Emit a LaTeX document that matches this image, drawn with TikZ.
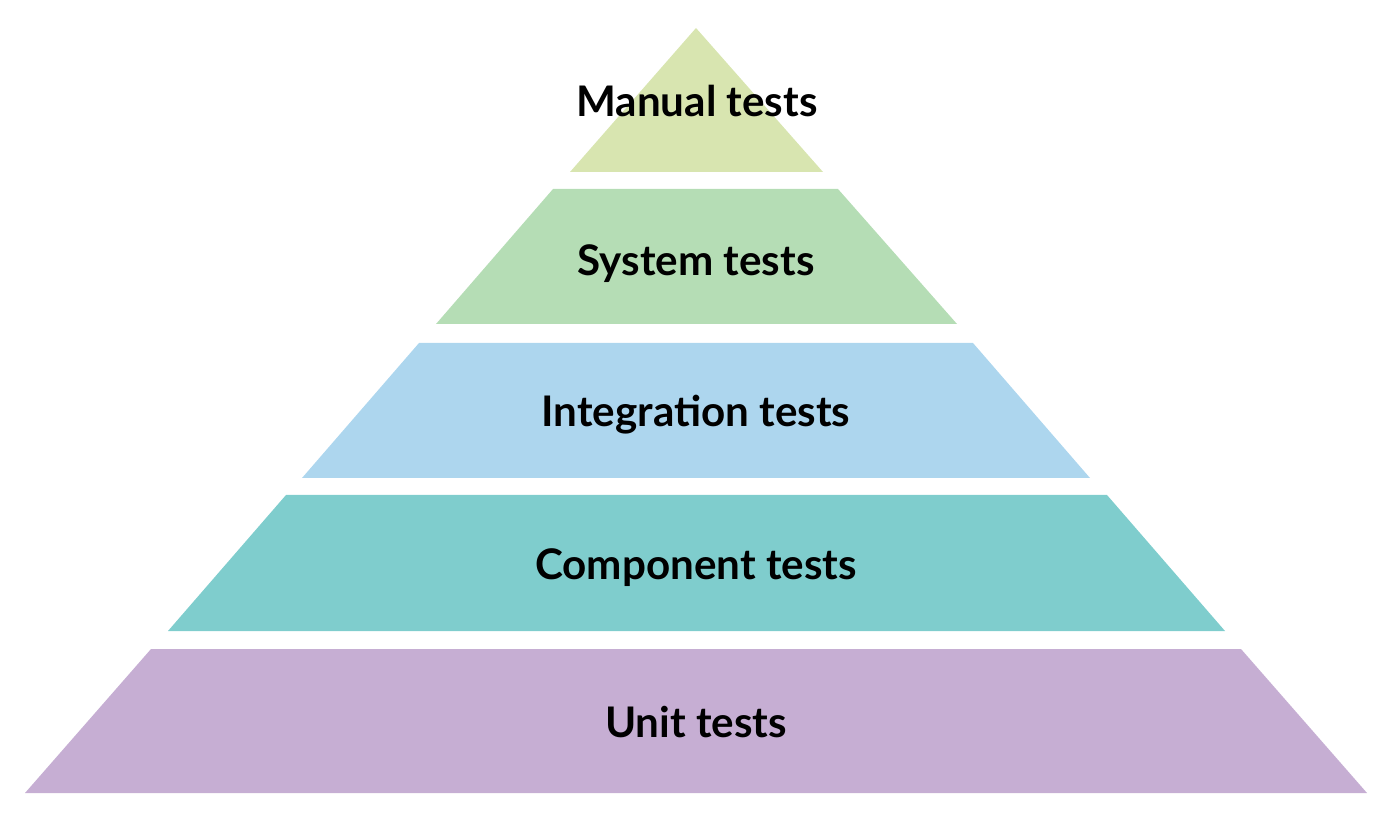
\documentclass[tikz,border=0pt]{standalone}
\usepackage{fontspec}
\setmainfont{Lato}
\usepackage{xcolor}
\usetikzlibrary{positioning}

\definecolor{manualcol}{HTML}{D8E5B0}
\definecolor{systemcol}{HTML}{B5DDB5}
\definecolor{integcol}{HTML}{ADD6EE}
\definecolor{compcol}{HTML}{7FCDCD}
\definecolor{unitcol}{HTML}{C6AED3}

\begin{document}
\begin{tikzpicture}[x=0.02cm, y=-0.02cm,
    layertext/.style={anchor=base, font=\fontsize{24}{28}\selectfont\bfseries, text=black, inner sep=0pt}]
            \useasboundingbox (0, 0) rectangle (1393, 820);

            \fill[manualcol] (696, 28) -- (823, 172) -- (570, 172) -- cycle;
            \fill[systemcol] (553, 189) -- (838, 189) -- (957, 324) -- (436, 324) -- cycle;
            \fill[integcol] (419, 343) -- (973, 343) -- (1090, 478) -- (302, 478) -- cycle;
            \fill[compcol] (286, 495) -- (1107, 495) -- (1225, 631) -- (168, 631) -- cycle;
            \fill[unitcol] (151, 649) -- (1241, 649) -- (1367, 793) -- (25, 793) -- cycle;

            \node[layertext] (manual) at (697, 117) {Manual tests};
            \node[layertext] (system) at (696, 276) {System tests};
            \node[layertext] (integration) at (696, 427) {Integration tests};
            \node[layertext] (component) at (696, 580) {Component tests};
            \node[layertext] (unit) at (696, 737) {Unit tests};
        \end{tikzpicture}
\end{document}
